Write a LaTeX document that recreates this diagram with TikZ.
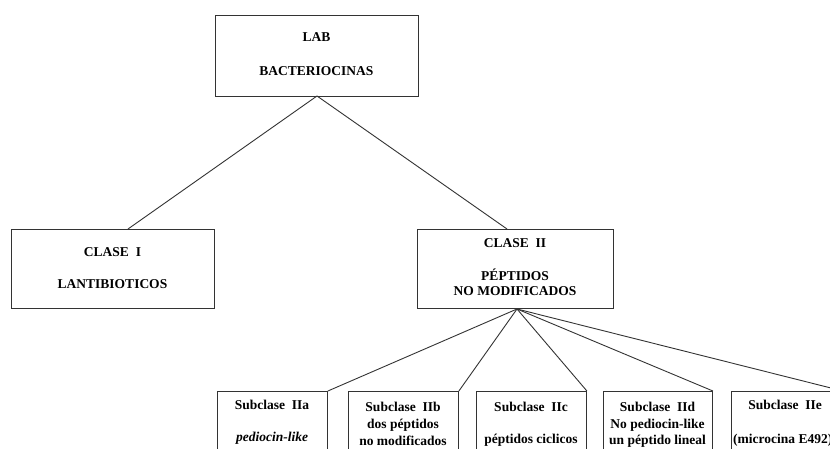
\documentclass[tikz,border=0pt]{standalone}
\usepackage{fontspec}
\setmainfont{Liberation Serif}
\begin{document}
\begin{tikzpicture}[x=1pt,y=-1pt,
  box/.style={draw=black!80,line width=0.9pt,inner sep=0pt,anchor=north west},
  lbl/.style={font=\bfseries\fontsize{13.5}{15}\selectfont,inner sep=0pt,anchor=center},
  conn/.style={draw=black!80,line width=0.9pt}]
\useasboundingbox (0,0) rectangle (830,449);
\clip (0,0) rectangle (830,449);
% top box
\node[box,minimum width=203pt,minimum height=81pt] (lab) at (215,15) {};
\node[lbl] (labt1) at (316.5,37) {LAB};
\node[lbl] (labt2) at (316.5,71) {BACTERIOCINAS};
% class I
\node[box,minimum width=203pt,minimum height=79pt] (c1) at (11,229) {};
\node[lbl] (c1t1) at (112.5,252) {CLASE\ \ I};
\node[lbl] (c1t2) at (112.5,284) {LANTIBIOTICOS};
% class II
\node[box,minimum width=196pt,minimum height=79pt] (c2) at (417,229) {};
\node[lbl] (c2t1) at (515,243) {CLASE\ \ II};
\node[lbl] (c2t2) at (515,275) {PÉPTIDOS};
\node[lbl] (c2t3) at (515,291) {NO MODIFICADOS};
% subclasses
\node[box,minimum width=110pt,minimum height=80pt] (sa) at (217,391) {};
\node[lbl] (sat1) at (272,405) {Subclase\ \ IIa};
\node[lbl,font=\bfseries\itshape\fontsize{13.5}{15}\selectfont] (sat2) at (272,438) {pediocin-like};
\node[box,minimum width=110pt,minimum height=80pt] (sb) at (348,391) {};
\node[lbl] (sbt1) at (403,407) {Subclase\ \ IIb};
\node[lbl] (sbt2) at (403,425) {dos péptidos};
\node[lbl] (sbt3) at (403,441) {no modificados};
\node[box,minimum width=110pt,minimum height=80pt] (sc) at (476,391) {};
\node[lbl] (sct1) at (531,407) {Subclase\ \ IIc};
\node[lbl] (sct2) at (531,440) {péptidos ciclicos};
\node[box,minimum width=109pt,minimum height=80pt] (sd) at (603,391) {};
\node[lbl] (sdt1) at (657.5,407) {Subclase\ \ IId};
\node[lbl] (sdt2) at (657.5,425) {No pediocin-like};
\node[lbl] (sdt3) at (657.5,441) {un péptido lineal};
\node[box,minimum width=111pt,minimum height=80pt] (se) at (731,391) {};
\node[lbl] (set1) at (785,405) {Subclase\ \ IIe};
\node[lbl,anchor=west] (set2) at (733,440) {(microcina E492)};
% connectors
\coordinate (j1) at (317,96);
\coordinate (j2) at (517,309);
\draw[conn] (j1) -- (128,229);
\draw[conn] (j1) -- (507,229);
\draw[conn] (j2) -- (sa.north east);
\draw[conn] (j2) -- (sb.north east);
\draw[conn] (j2) -- (sc.north east);
\draw[conn] (j2) -- (sd.north east);
\draw[conn] (j2) -- (se.north east);
\end{tikzpicture}
\end{document}
